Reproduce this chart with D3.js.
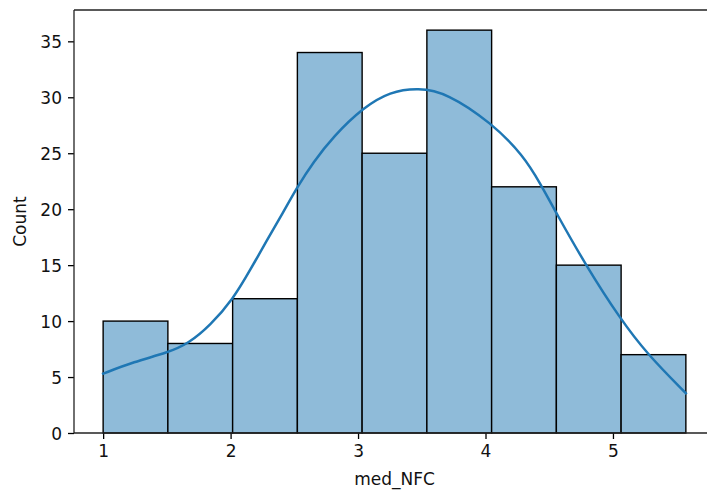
<!DOCTYPE html>
<html>
<head>
<meta charset="utf-8">
<script src="https://cdn.jsdelivr.net/npm/d3@7"></script>
<style>
  html, body { margin: 0; padding: 0; background: #fff; }
  svg { display: block; }
  text { font-family: "DejaVu Sans", sans-serif; }
</style>
</head>
<body>
<svg id="chart" width="707" height="490"></svg>
<script>
// ---- data ----
const binEdges = [1.0, 1.508, 2.016, 2.524, 3.032, 3.540, 4.048, 4.556, 5.064, 5.572];
const counts = [10, 8, 12, 34, 25, 36, 22, 15, 7];
const kdeX = [1.0, 1.238, 1.512, 1.669, 1.839, 2.022, 2.153, 2.284, 2.414, 2.524, 2.649, 2.806, 3.042, 3.251, 3.473, 3.696, 4.049, 4.297, 4.430, 4.558, 4.794, 5.055, 5.264, 5.572];
const kdeY = [5.3, 6.35, 7.2, 8.0, 9.6, 12.0, 14.55, 17.2, 19.75, 22.0, 24.2, 26.5, 29.1, 30.5, 30.85, 30.4, 27.7, 24.8, 22.3, 19.6, 14.85, 10.24, 7.11, 3.55];
const xTicks = [1, 2, 3, 4, 5];
const yTicks = [0, 5, 10, 15, 20, 25, 30, 35];
const xLabel = "med_NFC";
const yLabel = "Count";

// ---- layout ----
const plotL = 74, plotT = 10, plotR = 715, plotB = 433;
const svg = d3.select("#chart");

const xMin = binEdges[0], xMax = binEdges[binEdges.length - 1];
const pad = (xMax - xMin) * 0.05;
const x = d3.scaleLinear().domain([xMin - pad, xMax + pad]).range([plotL, plotR]);
const y = d3.scaleLinear().domain([0, d3.max(counts) * 1.05]).range([plotB, plotT]);

const barColor = "#8fbbd9";
const lineColor = "#1f77b4";

// bars
svg.append("g").selectAll("rect")
  .data(counts)
  .join("rect")
  .attr("x", (d, i) => x(binEdges[i]))
  .attr("width", (d, i) => x(binEdges[i + 1]) - x(binEdges[i]))
  .attr("y", d => y(d))
  .attr("height", d => y(0) - y(d))
  .attr("fill", barColor)
  .attr("stroke", "#000")
  .attr("stroke-width", 1.4);

// kde line
const line = d3.line()
  .x((d, i) => x(kdeX[i]))
  .y(d => y(d))
  .curve(d3.curveBasis);
svg.append("path")
  .datum(kdeY)
  .attr("d", line)
  .attr("fill", "none")
  .attr("stroke", lineColor)
  .attr("stroke-width", 2.5)
  .attr("stroke-linecap", "square");

// axes
const xAxis = d3.axisBottom(x).tickValues(xTicks).tickFormat(d3.format("d")).tickSizeOuter(0).tickSize(6).tickPadding(6);
const yAxis = d3.axisLeft(y).tickValues(yTicks).tickFormat(d3.format("d")).tickSizeOuter(0).tickSize(6).tickPadding(6);

const gx = svg.append("g").attr("transform", `translate(0,${plotB})`).call(xAxis);
const gy = svg.append("g").attr("transform", `translate(${plotL},0)`).call(yAxis);
[gx, gy].forEach(g => {
  g.select(".domain").remove();
  g.selectAll(".tick line").attr("stroke", "#000").attr("stroke-width", 1.3);
  g.selectAll(".tick text").attr("fill", "#111").style("font-size", "17px").style("font-family", "DejaVu Sans, sans-serif");
});
gy.selectAll(".tick text").attr("dy", "0.36em");

// spines
const spine = svg.append("g").attr("stroke", "#222").attr("stroke-width", 1.3).attr("fill", "none");
spine.append("line").attr("x1", plotL).attr("x2", plotL).attr("y1", plotT).attr("y2", plotB);
spine.append("line").attr("x1", plotL).attr("x2", plotR).attr("y1", plotB).attr("y2", plotB);
spine.append("line").attr("x1", plotL).attr("x2", plotR).attr("y1", plotT).attr("y2", plotT);
spine.append("line").attr("x1", plotR).attr("x2", plotR).attr("y1", plotT).attr("y2", plotB);

// labels
svg.append("text")
  .attr("x", (plotL + plotR) / 2).attr("y", 485)
  .attr("text-anchor", "middle")
  .style("font-size", "17px").attr("fill", "#111")
  .text(xLabel);
svg.append("text")
  .attr("transform", `translate(26,${(plotT + plotB) / 2}) rotate(-90)`)
  .attr("text-anchor", "middle")
  .style("font-size", "17px").attr("fill", "#111")
  .text(yLabel);
</script>
</body>
</html>
